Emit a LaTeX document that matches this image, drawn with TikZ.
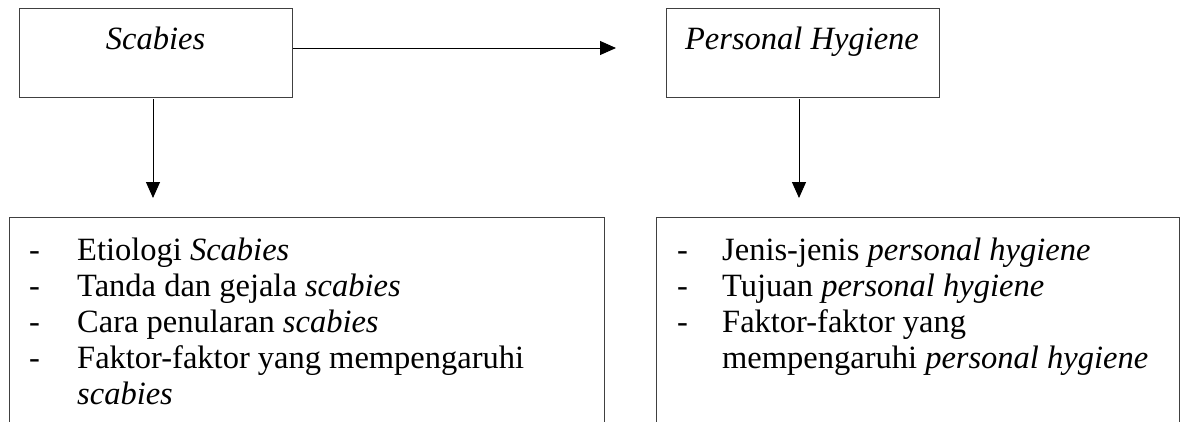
\documentclass[tikz,border=0pt]{standalone}
\usepackage{fontspec}
\setmainfont{Liberation Serif}
\usetikzlibrary{arrows.meta}
\tikzset{
  box/.style={draw=black!75, line width=1pt, inner sep=0pt, anchor=north west},
  arr/.style={draw=black, line width=1pt, -{Triangle[length=16pt,width=14pt]}},
  txt/.style={font=\fontsize{32.5}{36}\selectfont, inner sep=0pt},
  item/.style={txt, anchor=base west},
}
\begin{document}
\begin{tikzpicture}[x=1pt,y=-1pt]
\useasboundingbox (0,0) rectangle (1185,421);
\clip (0,0) rectangle (1185,421);
% top boxes
\node[box, minimum width=273pt, minimum height=89pt] (b1) at (19,8) {};
\node[txt, anchor=base] (t1) at (155.5,49) {\textit{Scabies}};
\node[box, minimum width=273pt, minimum height=89pt] (b2) at (666,8) {};
\node[txt, anchor=base] (t2) at (802,49) {\textit{Personal Hygiene}};
% bottom boxes (extend past lower edge)
\node[box, minimum width=595pt, minimum height=240pt] (b3) at (9,217) {};
\node[box, minimum width=523pt, minimum height=240pt] (b4) at (656,217) {};
% connectors
\coordinate (h1s) at (b1.east |- 0,48);
\coordinate (h1e) at (616,48);
\draw[arr] (h1s) -- (h1e);
\coordinate (v1s) at (153,99);
\coordinate (v1e) at (153,198);
\draw[arr] (v1s) -- (v1e);
\coordinate (v2s) at (799,99);
\coordinate (v2e) at (799,198);
\draw[arr] (v2s) -- (v2e);
% left list
\node[item] (d1) at (29,260) {-};
\node[item] (l1) at (77,260) {Etiologi \textit{Scabies}};
\node[item] (d2) at (29,296) {-};
\node[item] (l2) at (77,296) {Tanda dan gejala \textit{scabies}};
\node[item] (d3) at (29,332) {-};
\node[item] (l3) at (77,332) {Cara penularan \textit{scabies}};
\node[item] (d4) at (29,368) {-};
\node[item] (l4) at (77,368) {Faktor-faktor yang mempengaruhi};
\node[item] (l5) at (77,404) {\textit{scabies}};
% right list
\node[item] (e1) at (677,260) {-};
\node[item] (r1) at (722,260) {Jenis-jenis \textit{personal hygiene}};
\node[item] (e2) at (677,296) {-};
\node[item] (r2) at (722,296) {Tujuan \textit{personal hygiene}};
\node[item] (e3) at (677,332) {-};
\node[item] (r3) at (722,332) {Faktor-faktor yang};
\node[item] (r4) at (722,368) {mempengaruhi \textit{personal hygiene}};
\end{tikzpicture}
\end{document}
